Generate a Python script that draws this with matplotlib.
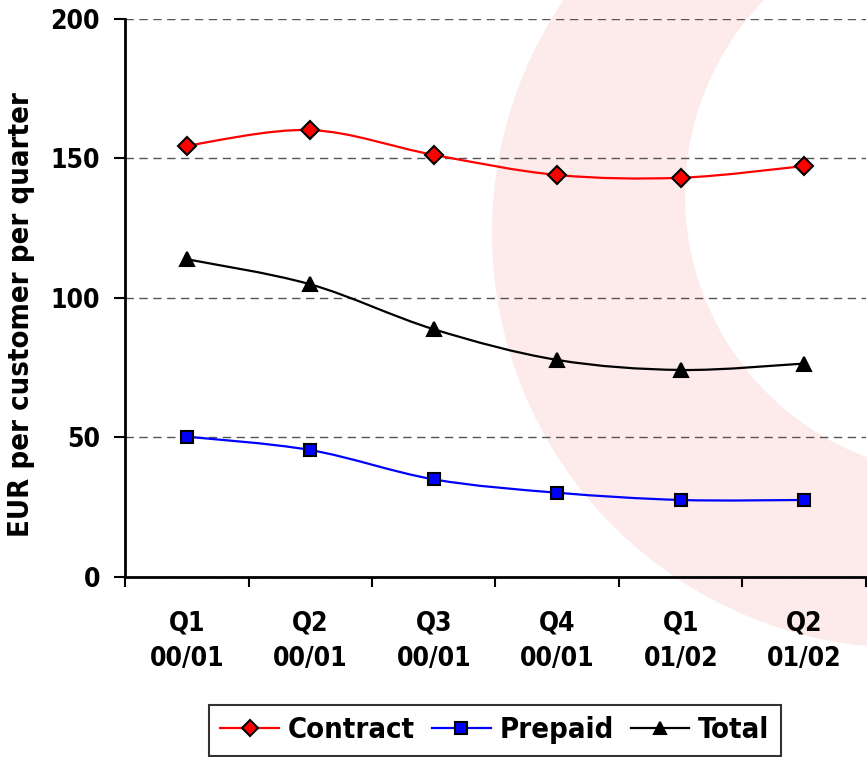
import numpy as np
import matplotlib
matplotlib.use("Agg")
import matplotlib.pyplot as plt
from matplotlib.path import Path
from matplotlib.patches import PathPatch, Circle
from matplotlib.lines import Line2D

# Data
quarters = ["Q1\n00/01", "Q2\n00/01", "Q3\n00/01", "Q4\n00/01", "Q1\n01/02", "Q2\n01/02"]
contract = [154.6, 160.2, 151.3, 144.1, 143.1, 147.3]
prepaid = [50.3, 45.5, 35.0, 30.2, 27.6, 27.6]
total = [113.9, 104.9, 88.8, 77.8, 74.2, 76.5]

plt.rcParams['font.family'] = ['DejaVu Sans']
plt.rcParams['font.weight'] = 'bold'
plt.rcParams['font.stretch'] = 'condensed'


# Function: Excel style smoothed line (Bezier through the points)
def smooth_path(x, y):
    p = np.column_stack([x, y]).astype(float)
    n = len(p)
    verts = [p[0]]
    codes = [Path.MOVETO]
    for i in range(n - 1):
        p0 = p[i - 1] if i > 0 else p[i]
        p3 = p[i + 2] if i + 2 < n else p[i + 1]
        c1 = p[i] + (p[i + 1] - p0) / 6.0
        c2 = p[i + 1] - (p3 - p[i]) / 6.0
        verts += [c1, c2, p[i + 1]]
        codes += [Path.CURVE4] * 3
    return Path(verts, codes)


fig = plt.figure(figsize=(8.67, 7.57), dpi=100)

# background watermark ring
bg = fig.add_axes([0, 0, 1, 1], zorder=0)
bg.set_xlim(0, 867)
bg.set_ylim(757, 0)
bg.axis('off')
bg.add_patch(Circle((907, 233), 415, facecolor='#fdeaea', edgecolor='none'))
bg.add_patch(Circle((965, 195), 280, facecolor='white', edgecolor='none'))

ax = fig.add_axes([0.1442, 0.2378, 0.8546, 0.7371], zorder=1)
ax.set_facecolor('none')

x = np.arange(len(quarters))
series = [
    ("Contract", contract, '#ff0000', 'D', '#ff0000', 9),
    ("Prepaid", prepaid, '#0000ff', 's', '#0000ff', 9),
    ("Total", total, 'black', '^', 'black', 10),
]
handles = []
for name, vals, col, mk, fc, ms in series:
    ax.add_patch(PathPatch(smooth_path(x, vals), facecolor='none', edgecolor=col,
                           linewidth=1.6, zorder=3))
    ax.plot(x, vals, linestyle='none', marker=mk, markersize=ms, markerfacecolor=fc,
            markeredgecolor='black', markeredgewidth=1.5, zorder=4)
    handles.append(Line2D([], [], color=col, linewidth=1.6, marker=mk, markersize=ms - 1,
                          markerfacecolor=fc, markeredgecolor='black', markeredgewidth=1.5))

ax.set_xlim(-0.5, 5.5)
ax.set_ylim(0, 200)
ax.set_yticks([0, 50, 100, 150, 200])
ax.yaxis.grid(True, linestyle=(0, (6, 4)), color='#555555', linewidth=1)
ax.set_axisbelow(True)

ax.set_xticks(np.arange(-0.5, 6.0, 1.0))
ax.set_xticklabels([])
ax.set_xticks(x, minor=True)
ax.set_xticklabels(quarters, minor=True, fontsize=19, fontweight='bold', linespacing=1.5)
ax.tick_params(axis='x', which='major', direction='out', length=7, width=1.5)
ax.tick_params(axis='x', which='minor', length=0, pad=24)
ax.tick_params(axis='y', direction='out', length=8, width=1.5, labelsize=19, pad=10)

for s in ['top', 'right']:
    ax.spines[s].set_visible(False)
for s in ['left', 'bottom']:
    ax.spines[s].set_linewidth(2)

ax.set_ylabel("EUR per customer per quarter", fontsize=21, fontweight='bold')
ax.yaxis.set_label_coords(-0.121, 0.47)

leg = fig.legend(handles, ["Contract", "Prepaid", "Total"], loc='lower center',
                 bbox_to_anchor=(0.571, 0.0), ncol=3, fontsize=21, frameon=True,
                 fancybox=False, edgecolor='black', handlelength=2.0,
                 handletextpad=0.3, columnspacing=0.6, borderpad=0.38,
                 borderaxespad=0.05)
leg.get_frame().set_linewidth(1.5)

fig.savefig("out.png", dpi=100)
